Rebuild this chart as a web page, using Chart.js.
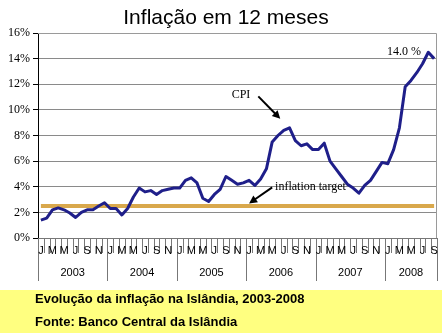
<!DOCTYPE html>
<html>
<head>
<meta charset="utf-8">
<script src="https://cdn.jsdelivr.net/npm/chart.js@4"></script>
<style>
html,body{margin:0;padding:0;background:#fff;}
#wrap{width:442px;height:333px;position:relative;}
</style>
</head>
<body>
<div id="wrap"><canvas id="c" width="442" height="333"></canvas></div>
<script>
// ---- data ----
const years = ['2003','2004','2005','2006','2007','2008'];
const monthLetters = ['J','F','M','A','M','J','J','A','S','O','N','D'];
const cpi2003 = [1.4,1.55,2.2,2.35,2.2,1.95,1.6,2.0,2.2,2.2,2.5,2.75];
const cpi2004 = [2.3,2.3,1.8,2.3,3.2,3.9,3.6,3.7,3.4,3.7,3.8,3.9];
const cpi2005 = [3.9,4.5,4.7,4.3,3.1,2.85,3.4,3.8,4.8,4.5,4.2,4.3];
const cpi2006 = [4.5,4.1,4.6,5.4,7.5,8.0,8.4,8.6,7.6,7.2,7.35,6.9];
const cpi2007 = [6.9,7.4,6.0,5.4,4.8,4.2,3.9,3.5,4.1,4.5,5.2,5.9];
const cpi2008 = [5.8,6.9,8.6,11.8,12.3,12.9,13.6,14.5,14.0];
const inflationTarget = 2.5;
const yTicks = [0,2,4,6,8,10,12,14,16];
const titleText = 'Inflação em 12 meses';
const captionLines = ['Evolução da inflação na Islândia, 2003-2008', 'Fonte: Banco Central da Islândia'];
const peakLabel = '14.0 %';

const cpiValues = [].concat(cpi2003, cpi2004, cpi2005, cpi2006, cpi2007, cpi2008);
const categories = cpiValues.map((v, i) => years[Math.floor(i / 12)] + '-' + monthLetters[i % 12] + (i % 12));
const targetValues = cpiValues.map(() => inflationTarget);

function arrow(ctx, x1, y1, x2, y2) {
  const ang = Math.atan2(y2 - y1, x2 - x1);
  const hl = 8, hw = 4;
  ctx.beginPath();
  ctx.moveTo(x1, y1);
  ctx.lineTo(x2 - Math.cos(ang) * hl * 0.8, y2 - Math.sin(ang) * hl * 0.8);
  ctx.lineWidth = 2;
  ctx.strokeStyle = '#000';
  ctx.stroke();
  ctx.beginPath();
  ctx.moveTo(x2, y2);
  ctx.lineTo(x2 - Math.cos(ang) * hl + Math.sin(ang) * hw, y2 - Math.sin(ang) * hl - Math.cos(ang) * hw);
  ctx.lineTo(x2 - Math.cos(ang) * hl - Math.sin(ang) * hw, y2 - Math.sin(ang) * hl + Math.cos(ang) * hw);
  ctx.closePath();
  ctx.fillStyle = '#000';
  ctx.fill();
}

const decor = {
  id: 'decor',
  beforeDraw(chart) {
    const ctx = chart.ctx;
    ctx.save();
    ctx.fillStyle = '#fff';
    ctx.fillRect(0, 0, chart.width, chart.height);
    ctx.fillStyle = '#FFFF80';
    ctx.fillRect(0, 290, chart.width, chart.height - 290);
    ctx.fillStyle = '#000';
    ctx.font = 'bold 13px "Liberation Sans", Arial, sans-serif';
    ctx.textAlign = 'left';
    ctx.textBaseline = 'alphabetic';
    ctx.fillText(captionLines[0], 35, 303);
    ctx.fillText(captionLines[1], 35, 326);
    // title
    ctx.font = '21px "Liberation Sans", Arial, sans-serif';
    ctx.textAlign = 'center';
    ctx.textBaseline = 'middle';
    ctx.fillText(titleText, 226, 18);
    ctx.restore();
  },
  afterDraw(chart) {
    const ctx = chart.ctx;
    const xs = chart.scales.x, ys = chart.scales.y;
    const a = chart.chartArea;
    const n = cpiValues.length;
    const w = (a.right - a.left) / n;
    ctx.save();
    // plot frame
    ctx.strokeStyle = '#9a9a9a';
    ctx.lineWidth = 1;
    ctx.beginPath();
    ctx.moveTo(a.left, a.top + 0.5); ctx.lineTo(a.right - 0.5, a.top + 0.5); ctx.lineTo(a.right - 0.5, a.bottom);
    ctx.stroke();
    // x axis line + month ticks
    ctx.strokeStyle = '#777';
    ctx.beginPath();
    ctx.moveTo(a.left, Math.round(a.bottom) + 0.5); ctx.lineTo(a.right, Math.round(a.bottom) + 0.5);
    for (let k = 0; k <= n; k++) {
      const x = Math.round(xs.getPixelForValue(Math.min(k, n - 1)) + (k === n ? w / 2 : -w / 2)) + 0.5;
      const isYear = (k % 12 === 0) || k === n;
      ctx.moveTo(x, a.bottom);
      ctx.lineTo(x, a.bottom + (isYear ? 43 : 15));
    }
    ctx.stroke();
    // month labels
    ctx.fillStyle = '#000';
    ctx.font = '11px "Liberation Sans", Arial, sans-serif';
    ctx.textAlign = 'center';
    ctx.textBaseline = 'middle';
    for (let i = 0; i < n; i += 2) {
      ctx.fillText(monthLetters[i % 12], xs.getPixelForValue(i), a.bottom + 13);
    }
    // year labels
    for (let yi = 0; yi < years.length; yi++) {
      const s = yi * 12, e = Math.min(n, s + 12) - 1;
      const cx = (xs.getPixelForValue(s) + xs.getPixelForValue(e)) / 2;
      ctx.fillText(years[yi], cx, a.bottom + 35);
    }
    // annotations (placed in data space)
    ctx.font = '12px "Liberation Serif", "Times New Roman", serif';
    ctx.textAlign = 'center';
    ctx.fillText('CPI', xs.getPixelForValue(34.6), ys.getPixelForValue(11.2));
    arrow(ctx, xs.getPixelForValue(37.6), ys.getPixelForValue(11.05), xs.getPixelForValue(41.4), ys.getPixelForValue(9.3));
    ctx.textAlign = 'left';
    ctx.fillText('inflation target', xs.getPixelForValue(40.5), ys.getPixelForValue(3.98));
    arrow(ctx, xs.getPixelForValue(40.0), ys.getPixelForValue(3.95), xs.getPixelForValue(36.0), ys.getPixelForValue(2.7));
    ctx.textAlign = 'center';
    ctx.fillText(peakLabel, xs.getPixelForValue(62.8), ys.getPixelForValue(14.55));
    ctx.restore();
  }
};

new Chart(document.getElementById('c'), {
  type: 'line',
  data: {
    labels: categories,
    datasets: [
      { label: 'CPI', data: cpiValues, borderColor: '#1f1f8a', borderWidth: 3, pointRadius: 0, tension: 0, fill: false, borderJoinStyle: 'round' },
      { label: 'inflation target', data: targetValues, borderColor: '#D9A84C', borderWidth: 4, pointRadius: 0, tension: 0, fill: false }
    ]
  },
  options: {
    responsive: false,
    animation: false,
    devicePixelRatio: 1,
    layout: { padding: { left: 0, right: 5, top: 33, bottom: 95 } },
    plugins: {
      legend: { display: false },
      tooltip: { enabled: false },
      title: { display: false }
    },
    scales: {
      x: { type: 'category', display: false, offset: true },
      y: {
        min: 0, max: 16,
        afterFit(scale) { scale.width = 38; },
        afterBuildTicks(scale) { scale.ticks = yTicks.map(v => ({ value: v })); },
        ticks: {
          color: '#000',
          padding: 3,
          font: { family: '"Liberation Serif", "Times New Roman", serif', size: 12 },
          callback: v => v + '%'
        },
        grid: {
          color: (c) => (c.tick && (c.tick.value === 0 || c.tick.value === 16)) ? 'rgba(0,0,0,0)' : '#8a8a8a',
          borderDash: [4, 3],
          tickLength: 5,
          tickColor: '#000',
          tickBorderDash: [],
          lineWidth: 1
        },
        border: { display: true, color: '#000', width: 1, dash: [] }
      }
    }
  },
  plugins: [decor]
});
</script>
</body>
</html>
